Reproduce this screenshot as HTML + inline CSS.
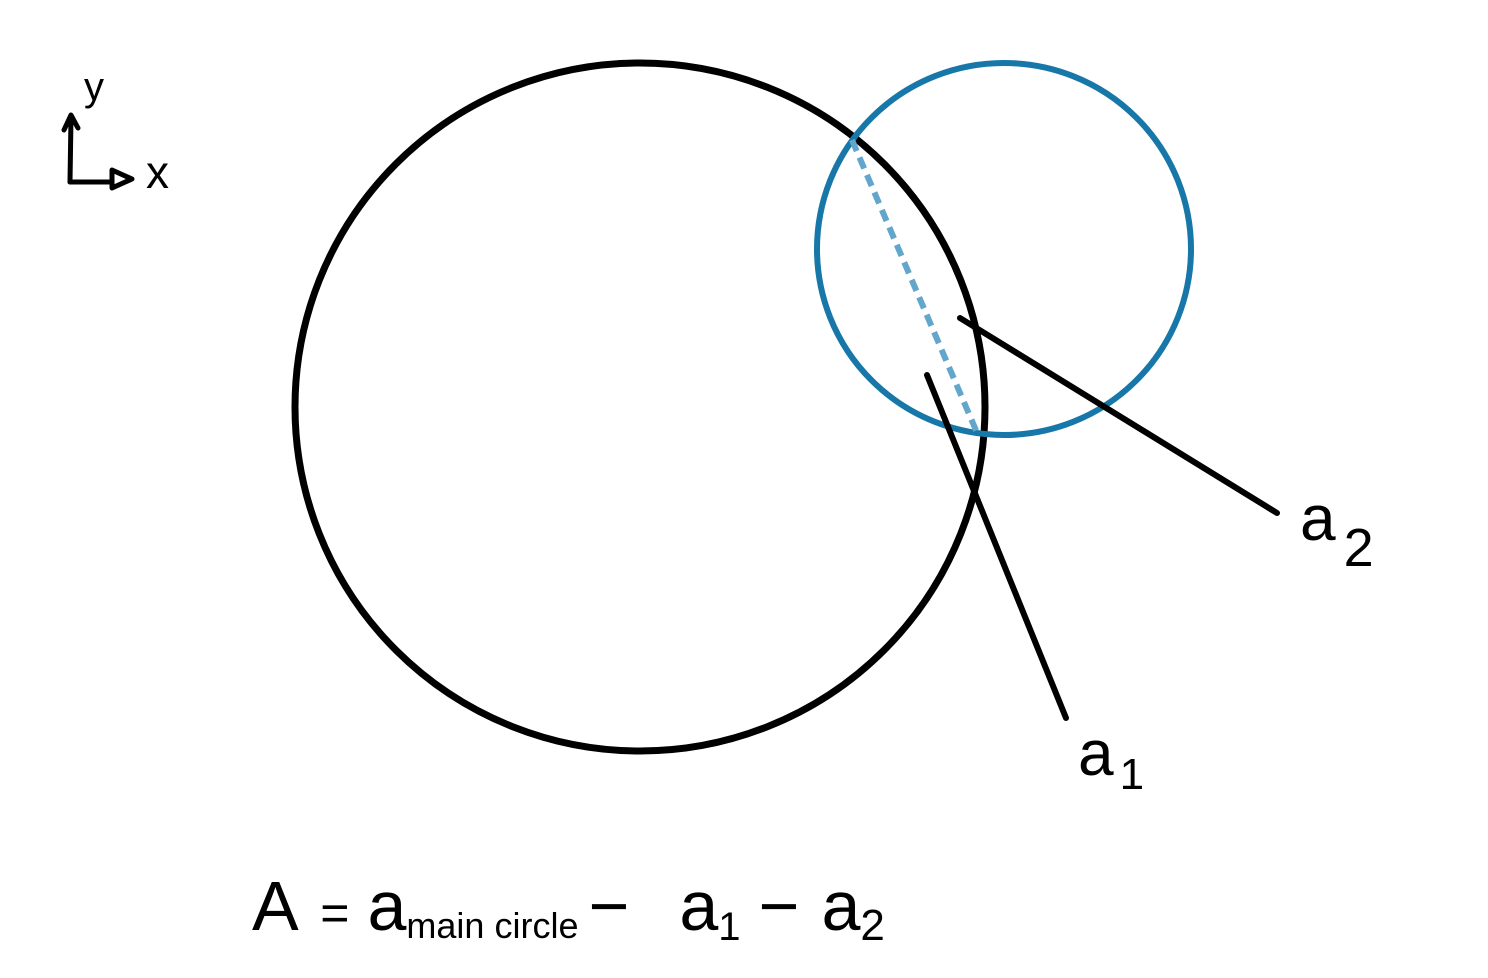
<!DOCTYPE html>
<html><head><meta charset="utf-8">
<style>
html,body{margin:0;padding:0;background:#fff;width:1488px;height:978px;overflow:hidden}
svg text{font-family:"Liberation Sans",sans-serif;fill:#000}
</style></head>
<body>
<svg id="fig" width="1488" height="978" viewBox="0 0 1488 978" xmlns="http://www.w3.org/2000/svg">
  <g stroke="#000" stroke-width="5" fill="none" stroke-linecap="round" stroke-linejoin="round">
    <path d="M70 182 L71 118 M64 130 L71 115 L78 128"/>
    <path d="M70 182 L112 182"/>
    <path d="M112 170 L132 179 L112 188 Z"/>
  </g>
  <text x="84" y="100" font-size="40">y</text>
  <text x="146" y="188" font-size="46">x</text>
  <g id="marks"></g>
  <text x="1300" y="540" font-size="64">a<tspan font-size="54" dx="8" dy="26">2</tspan></text>
  <text x="1078" y="775" font-size="64">a<tspan font-size="44" dx="6" dy="14">1</tspan></text>
  <text x="252" y="930" font-size="70">A <tspan font-size="50" dx="6">=</tspan><tspan dx="18">a</tspan><tspan font-size="36" dy="8">main circle</tspan><tspan dy="-8" dx="10">−</tspan><tspan dx="50">a</tspan><tspan font-size="40" dy="10">1</tspan><tspan dy="-10" dx="18">−</tspan><tspan dx="22">a</tspan><tspan font-size="44" dy="10">2</tspan></text>
</svg>
<script>
const circleCenters = [[640, 407], [1004, 249]];
const circleRadii = [[345, 344], [187, 186]];
const chordEnds = [[852, 140], [978, 435]];
const leaderA1 = [[927, 375], [1066, 718]];
const leaderA2 = [[960, 318], [1277, 513]];

const NS = 'http://www.w3.org/2000/svg';
const g = document.getElementById('marks');
function mk(tag, attrs) {
  const e = document.createElementNS(NS, tag);
  for (const k in attrs) e.setAttribute(k, attrs[k]);
  g.appendChild(e);
  return e;
}
const main = mk('ellipse', {cx: circleCenters[0][0], cy: circleCenters[0][1], rx: circleRadii[0][0], ry: circleRadii[0][1], fill: 'none', stroke: '#000', 'stroke-width': 7});


const small = mk('ellipse', {cx: circleCenters[1][0], cy: circleCenters[1][1], rx: circleRadii[1][0], ry: circleRadii[1][1], fill: 'none', stroke: '#1777a8', 'stroke-width': 6});


const chord = mk('line', {x1: chordEnds[0][0], y1: chordEnds[0][1], x2: chordEnds[1][0], y2: chordEnds[1][1], stroke: '#62a6cc', 'stroke-width': 6, 'stroke-dasharray': '12 7'});


const l1 = mk('line', {x1: leaderA1[0][0], y1: leaderA1[0][1], x2: leaderA1[1][0], y2: leaderA1[1][1], stroke: '#000', 'stroke-width': 6, 'stroke-linecap': 'round'});


const l2 = mk('line', {x1: leaderA2[0][0], y1: leaderA2[0][1], x2: leaderA2[1][0], y2: leaderA2[1][1], stroke: '#000', 'stroke-width': 6, 'stroke-linecap': 'round'});


</script>
</body></html>
